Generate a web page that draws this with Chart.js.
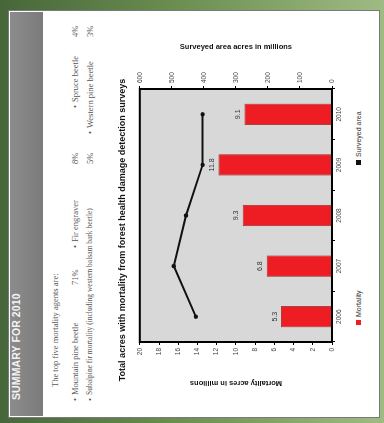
<!DOCTYPE html>
<html>
<head>
<meta charset="utf-8">
<script src="https://cdn.jsdelivr.net/npm/chart.js@4.4.0/dist/chart.umd.min.js"></script>
<style>
  html, body { margin: 0; padding: 0; width: 384px; height: 423px; overflow: hidden; }
  body {
    position: relative;
    background: linear-gradient(to right, #47673a 0%, #6a8d50 45%, #9fbb84 100%);
  }
  /* The slide is laid out upright (423 x 384) and turned a quarter turn counter-clockwise. */
  #slide {
    position: absolute; left: 0; top: 0; width: 423px; height: 384px;
    transform-origin: 0 0; transform: translateY(423px) rotate(-90deg);
    font-family: "Liberation Serif", serif;
  }
  #panel {
    position: absolute; left: 5px; top: 8px; width: 408px; height: 372px;
    background: #fff; border: 1px solid #7a7a7a; box-sizing: border-box;
  }
  #header {
    position: absolute; left: 7px; top: 10px; width: 404px; height: 33px;
    background: linear-gradient(to bottom, #8c8c8c, #7b7b7b);
  }
  #header span {
    position: absolute; left: 16px; top: 0; line-height: 33px;
    font: bold 10.5px "Liberation Sans", Arial, sans-serif; color: #f4f4f4; letter-spacing: 0.1px;
  }
  .t { position: absolute; white-space: nowrap; font-size: 8.5px; color: #555; line-height: 10px; }
  .t.small { font-size: 7.5px; }
  #chartBox { position: absolute; left: 0; top: 110px; width: 423px; height: 240px; }
  #legend { position: absolute; left: 0; top: 354px; width: 423px; height: 10px;
    font: 7px "Liberation Sans", Arial, sans-serif; color: #333; }
  #legend .item { position: absolute; top: 0; line-height: 10px; white-space: nowrap; }
  #legend .sw { display: inline-block; width: 5px; height: 5px; vertical-align: middle; margin-right: 3px; position: relative; top: -1px; }
</style>
</head>
<body>
<div id="slide">
  <div id="panel"></div>
  <div id="header"><span>SUMMARY FOR 2010</span></div>

  <div class="t" style="left:36px; top:50px;">The top five mortality agents are:</div>

  <div class="t" style="left:22px; top:70px;">•</div>
  <div class="t" style="left:28px; top:70px;">Mountain pine beetle</div>
  <div class="t" style="left:138px; top:70px;">71%</div>
  <div class="t" style="left:175px; top:70px;">•</div>
  <div class="t" style="left:181px; top:70px;">Fir engraver</div>
  <div class="t" style="left:259px; top:70px;">8%</div>
  <div class="t" style="left:315px; top:70px;">•</div>
  <div class="t" style="left:321px; top:70px;">Spruce beetle</div>
  <div class="t" style="left:386px; top:70px;">4%</div>

  <div class="t" style="left:22px; top:85px;">•</div>
  <div class="t small" style="left:28px; top:85px;">Subalpine fir mortality (including western balsam bark beetle)</div>
  <div class="t" style="left:259px; top:85px;">5%</div>
  <div class="t" style="left:289px; top:85px;">•</div>
  <div class="t" style="left:295px; top:85px;">Western pine beetle</div>
  <div class="t" style="left:386px; top:85px;">3%</div>

  <div id="chartBox"><canvas id="chart" width="423" height="240"></canvas></div>
  <div id="legend"></div>
</div>

<script>
// Survey years on the category axis
const years = ['2006', '2007', '2008', '2009', '2010'];
// Acres with mortality, in millions (bars, left axis)
const mortality = [5.3, 6.8, 9.3, 11.8, 9.1];
// Surveyed area, acres in millions (line, right axis)
const surveyed = [425, 494, 456, 404, 404];
// Series names
const seriesNames = ['Mortality', 'Surveyed area'];
// Axis titles and chart title
const chartTitle = 'Total acres with mortality from forest health damage detection surveys';
const leftAxisTitle = 'Mortality acres in millions';
const rightAxisTitle = 'Surveyed area acres in millions';

const barColor = '#ee1d23';
const lineColor = '#111111';
const plotFill = '#d8d8d8';

Chart.defaults.font.family = '"Liberation Sans", Arial, sans-serif';
Chart.defaults.color = '#333';

// Grey plot background and black frame around the plotting area
const plotFrame = {
  id: 'plotFrame',
  beforeDatasetsDraw(chart) {
    const { ctx, chartArea: a } = chart;
    ctx.save();
    ctx.fillStyle = plotFill;
    ctx.fillRect(a.left, a.top, a.right - a.left, a.bottom - a.top);
    ctx.restore();
  },
  afterDraw(chart) {
    const { ctx, chartArea: a } = chart;
    ctx.save();
    ctx.strokeStyle = '#000';
    ctx.lineWidth = 2;
    ctx.strokeRect(a.left, a.top, a.right - a.left, a.bottom - a.top);
    ctx.restore();
  }
};

// Value labels at the end of each bar
const barValues = {
  id: 'barValues',
  afterDatasetsDraw(chart) {
    const { ctx } = chart;
    const idx = chart.data.datasets.findIndex(d => d.type === 'bar');
    const meta = chart.getDatasetMeta(idx);
    ctx.save();
    ctx.font = '7px "Liberation Sans", Arial, sans-serif';
    ctx.fillStyle = '#333';
    ctx.textAlign = 'center';
    ctx.textBaseline = 'bottom';
    meta.data.forEach((el, i) => {
      ctx.fillText(mortality[i].toFixed(1), el.x, el.y - 3);
    });
    ctx.restore();
  }
};

const tickFont = { size: 6.5 };
const axisTitleFont = { size: 7.5, weight: 'bold' };

new Chart(document.getElementById('chart'), {
  data: {
    labels: years,
    datasets: [
      {
        type: 'line',
        label: seriesNames[1],
        data: surveyed,
        yAxisID: 'y1',
        borderColor: lineColor,
        backgroundColor: lineColor,
        borderWidth: 2,
        pointRadius: 2.2,
        pointBackgroundColor: lineColor,
        pointBorderWidth: 0,
        tension: 0,
        order: 0
      },
      {
        type: 'bar',
        label: seriesNames[0],
        data: mortality,
        yAxisID: 'y',
        backgroundColor: barColor,
        borderColor: '#8a1a1a',
        borderWidth: 0.8,
        barPercentage: 0.42,
        categoryPercentage: 1,
        order: 1
      }
    ]
  },
  options: {
    responsive: false,
    animation: false,
    devicePixelRatio: 1,
    layout: { padding: { left: 0, right: 37, top: 0, bottom: 0 } },
    plugins: {
      legend: { display: false },
      tooltip: { enabled: false },
      title: {
        display: true,
        text: chartTitle,
        color: '#111',
        font: { size: 9, weight: 'bold' },
        padding: { top: 7, bottom: 12 }
      }
    },
    scales: {
      x: {
        type: 'category',
        offset: true,
        grid: { display: true, offset: true, drawOnChartArea: false, tickLength: 3, color: '#000' },
        border: { display: true, color: '#000', width: 2 },
        ticks: { font: tickFont, padding: 0, color: '#444', maxRotation: 0 },
        afterFit(s) { s.height = 18; }
      },
      y: {
        position: 'left',
        min: 0, max: 20,
        ticks: { stepSize: 2, font: tickFont, padding: 3, color: '#444' },
        grid: { drawOnChartArea: false, tickLength: 3, color: '#000' },
        border: { display: true, color: '#000', width: 2 },
        title: { display: true, text: leftAxisTitle, color: '#111', font: axisTitleFont, padding: { top: 35.5, bottom: 0 } },
        afterFit(s) { s.width = 81; }
      },
      y1: {
        position: 'right',
        min: 0, max: 600,
        ticks: { stepSize: 100, font: tickFont, padding: 3, color: '#444' },
        grid: { drawOnChartArea: false, tickLength: 3, color: '#000' },
        border: { display: true, color: '#000', width: 2 },
        title: { display: true, text: rightAxisTitle, color: '#111', font: axisTitleFont, padding: { top: 5.5, bottom: 0 } },
        afterFit(s) { s.width = 52; }
      }
    }
  },
  plugins: [plotFrame, barValues]
});

// Legend below the category axis
const legend = document.getElementById('legend');
const legendItems = [
  { name: seriesNames[0], color: barColor, left: 98 },
  { name: seriesNames[1], color: lineColor, left: 258 }
];
legendItems.forEach(it => {
  const d = document.createElement('div');
  d.className = 'item';
  d.style.left = it.left + 'px';
  const sw = document.createElement('span');
  sw.className = 'sw';
  sw.style.background = it.color;
  d.appendChild(sw);
  d.appendChild(document.createTextNode(it.name));
  legend.appendChild(d);
});
</script>
</body>
</html>
